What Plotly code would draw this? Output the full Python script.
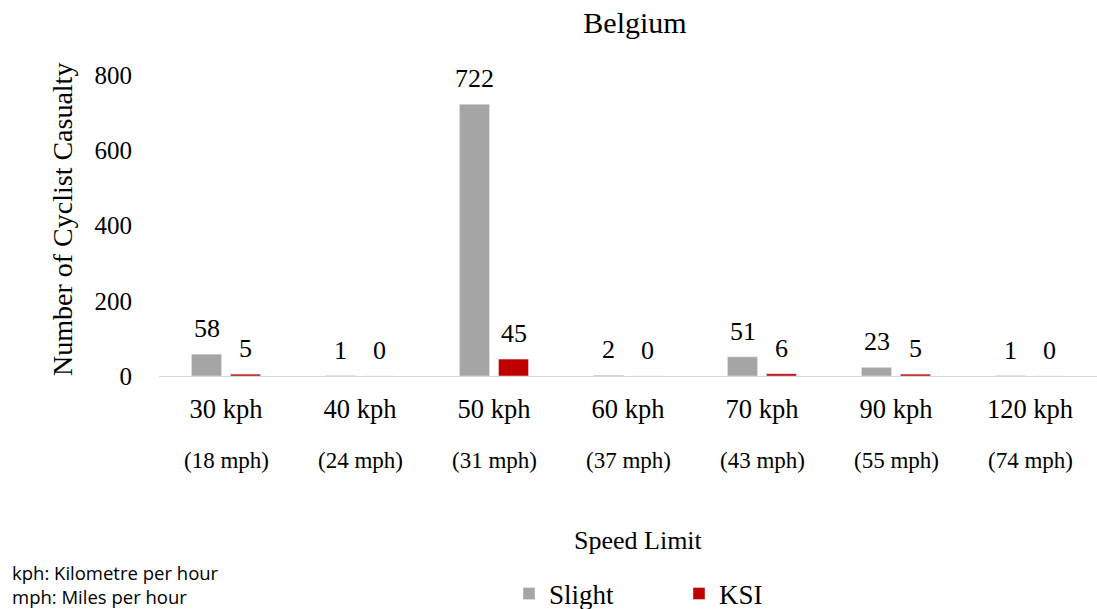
import plotly.graph_objects as go

# Cyclist casualties in Belgium by speed limit
speed_kph = ["30 kph", "40 kph", "50 kph", "60 kph", "70 kph", "90 kph", "120 kph"]
speed_mph = ["(18 mph)", "(24 mph)", "(31 mph)", "(37 mph)", "(43 mph)", "(55 mph)", "(74 mph)"]
slight = [58, 1, 722, 2, 51, 23, 1]
ksi = [5, 0, 45, 0, 6, 5, 0]
y_ticks = [0, 200, 400, 600, 800]
footnotes = ["kph: Kilometre per hour", "mph: Miles per hour"]

SERIF = "Liberation Serif, Times New Roman, serif"
GREY = "#A5A5A5"
RED = "#C00000"

W, H = 1097, 609
ML, MR, MT, MB = 159, 0, 75, 233
PW = W - ML - MR
PH = H - MT - MB


def px_x(p):
    return (p - ML) / PW


def px_y(p):
    return (H - MB - p) / PH


fig = go.Figure()
fig.add_trace(go.Bar(name="Slight", x=speed_kph, y=slight, marker_color=GREY))
fig.add_trace(go.Bar(name="KSI", x=speed_kph, y=ksi, marker_color=RED))

annotations = []
# value labels above each bar
half = 19.5
for cat, s, k in zip(speed_kph, slight, ksi):
    for val, dx in ((s, -half), (k, half)):
        annotations.append(dict(
            x=cat, y=val, xref="x", yref="y", text=str(val), showarrow=False,
            xshift=dx, yshift=9, yanchor="bottom",
            font=dict(family=SERIF, size=26, color="#000000"),
        ))
# second line of category labels (mph)
for cat, mph in zip(speed_kph, speed_mph):
    annotations.append(dict(
        x=cat, y=px_y(460), xref="x", yref="paper", text=mph, showarrow=False,
        yanchor="middle", font=dict(family=SERIF, size=23, color="#000000"),
    ))
# axis titles
annotations.append(dict(
    x=px_x(638), y=px_y(540), xref="paper", yref="paper", text="Speed Limit",
    showarrow=False, yanchor="middle", font=dict(family=SERIF, size=26, color="#000000"),
))
annotations.append(dict(
    x=px_x(62), y=px_y(220), xref="paper", yref="paper", text="Number of Cyclist Casualty",
    showarrow=False, textangle=-90, xanchor="center", yanchor="middle",
    font=dict(family=SERIF, size=28, color="#000000"),
))
# footnotes (abbreviation key)
annotations.append(dict(
    x=px_x(10), y=px_y(584), xref="paper", yref="paper", text="<br>".join(footnotes),
    showarrow=False, xanchor="left", yanchor="middle", align="left",
    font=dict(family="Open Sans, sans-serif", size=18.5, color="#000000"),
))

fig.update_layout(
    width=W, height=H, autosize=False,
    margin=dict(l=ML, r=MR, t=MT, b=MB, autoexpand=False),
    paper_bgcolor="#FFFFFF", plot_bgcolor="#FFFFFF",
    barmode="group", bargap=0.418, bargroupgap=0.23,
    title=dict(text="Belgium", x=635 / W, xref="container", xanchor="center",
               y=1 - 22 / H, yanchor="middle",
               font=dict(family=SERIF, size=30, color="#000000")),
    xaxis=dict(
        showline=True, linecolor="#D9D9D9", linewidth=1, showgrid=False, zeroline=False,
        ticks="outside", ticklen=9, tickcolor="rgba(0,0,0,0)",
        tickfont=dict(family=SERIF, size=26.5, color="#000000"),
        range=[-0.5, len(speed_kph) - 0.5],
    ),
    yaxis=dict(
        range=[0, 800], tickvals=y_ticks, showgrid=False, zeroline=False, showline=False,
        ticks="outside", ticklen=21, tickcolor="rgba(0,0,0,0)",
        tickfont=dict(family=SERIF, size=25, color="#000000"),
    ),
    legend=dict(
        orientation="h", x=px_x(509), y=px_y(594), xanchor="left", yanchor="middle",
        font=dict(family=SERIF, size=27, color="#000000"),
        entrywidth=125, bgcolor="rgba(0,0,0,0)",
    ),
    annotations=annotations,
)

fig.write_html("out.html")
